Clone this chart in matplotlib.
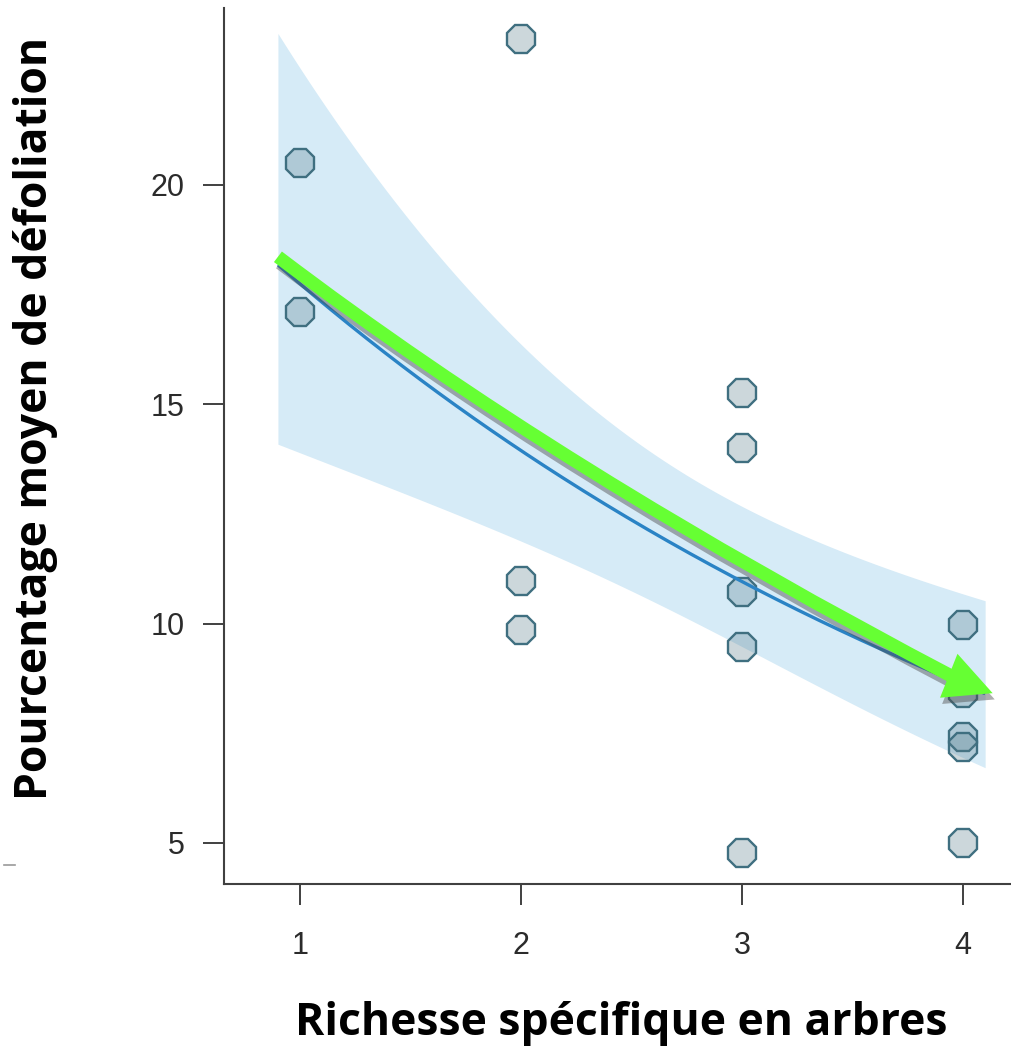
import numpy as np
import matplotlib
matplotlib.use("Agg")
import matplotlib.pyplot as plt
from matplotlib.path import Path
from matplotlib.patches import FancyArrowPatch
from matplotlib.lines import Line2D
import matplotlib.patheffects as pe

# Plot-level observations: tree species richness vs mean defoliation (%)
richness = [1, 1, 2, 2, 2, 3, 3, 3, 3, 3, 4, 4, 4, 4, 4]
defoliation = [20.5, 17.1, 23.33, 10.97, 9.86,
               15.26, 14.0, 10.72, 9.47, 4.78,
               9.97, 8.42, 7.42, 7.19, 5.0]

# Log-link model: log(mu) = intercept + slope * richness
intercept = 3.117
slope = -0.241
# covariance of (intercept, slope) on the link scale
vcov = [[0.0322, -0.01024],
        [-0.01024, 0.00386]]
fit_range = [0.9, 4.1]

x_ticks = [1, 2, 3, 4]
y_ticks = [5, 10, 15, 20]

# Hand-drawn trend arrow: shaft (start, bend, end) and head (base, tip), data units
shaft_start = (0.9, 18.36)
shaft_bend = (2.18, 13.46)
shaft_end = (3.975, 8.73)
head_base = (3.941, 8.80)
head_tip = (4.134, 8.414)

GREEN = "#66ff33"
W, H, DPI = 1011, 1047, 100
fig = plt.figure(figsize=(W / DPI, H / DPI), dpi=DPI)
ax = fig.add_axes([224 / W, (H - 884) / H, (W - 224) / W, (884 - 8) / H])

# model prediction with 95% confidence band (link scale -> response)
xg = np.linspace(fit_range[0], fit_range[1], 200)
eta = intercept + slope * xg
V = np.array(vcov)
se = np.sqrt(V[0, 0] + 2 * xg * V[0, 1] + xg ** 2 * V[1, 1])
mu = np.exp(eta)
lo = np.exp(eta - 1.96 * se)
hi = np.exp(eta + 1.96 * se)

ax.fill_between(xg, lo, hi, color="#d6ebf7", lw=0, zorder=1)
ax.plot(richness, defoliation, linestyle="none", marker="8", ms=22,
        mfc=(88 / 255, 125 / 255, 138 / 255, 0.3), mec="#3f6f80", mew=1.7,
        zorder=2)
ax.plot(xg, mu, color="#2a83c5", lw=2.4, zorder=3, solid_capstyle="butt")

# green trend arrow with drop shadow
shadow = [pe.SimplePatchShadow(offset=(1.5, -4.5), shadow_rgbFace="0.3", alpha=0.45),
          pe.Normal()]
shaft = FancyArrowPatch(path=Path([shaft_start, shaft_bend, shaft_end],
                                  [Path.MOVETO, Path.CURVE3, Path.CURVE3]),
                        arrowstyle="simple,head_length=0.01,head_width=0.95,tail_width=0.95",
                        mutation_scale=10, color=GREEN, lw=0, zorder=4,
                        transform=ax.transData)
shaft.set_path_effects(shadow)
ax.add_patch(shaft)

head = FancyArrowPatch(posA=head_base, posB=head_tip,
                       arrowstyle="-|>,head_length=3.4,head_width=1.7",
                       mutation_scale=10, color=GREEN, lw=0, shrinkA=0, shrinkB=0,
                       zorder=4, transform=ax.transData)
head.set_path_effects(shadow)
ax.add_patch(head)

ax.set_xlim(0.656, 4.217)
ax.set_ylim(4.065, 24.03)
ax.set_xticks(x_ticks)
ax.set_yticks(y_ticks)
ax.set_xticklabels([str(v) for v in x_ticks])
ax.set_yticklabels([str(v) for v in y_ticks])

for side in ("top", "right"):
    ax.spines[side].set_visible(False)
for side in ("left", "bottom"):
    ax.spines[side].set_color("#404040")
    ax.spines[side].set_linewidth(1.5)

ax.tick_params(axis="both", length=15, width=1.4, color="#404040",
               labelcolor="#2b2b2b", labelsize=22)
ax.tick_params(axis="y", pad=13.5)
ax.tick_params(axis="x", pad=19)
for lab in ax.get_xticklabels() + ax.get_yticklabels():
    lab.set_family("Liberation Sans")

fig.text(36 / W, 1 - 418 / H, "Pourcentage moyen de défoliation",
         rotation=90, ha="center", va="center", fontsize=32,
         fontweight="bold", family="Open Sans", color="black")
fig.text(621 / W, 1 - 1024 / H, "Richesse spécifique en arbres",
         ha="center", va="center", fontsize=32,
         fontweight="bold", family="Open Sans", color="black")

# small stray dash at the left margin
fig.add_artist(Line2D([4 / W, 15 / W], [1 - 865 / H, 1 - 865 / H],
                      color="#9a9a9a", lw=1.2))

fig.savefig("out.png", dpi=DPI)
